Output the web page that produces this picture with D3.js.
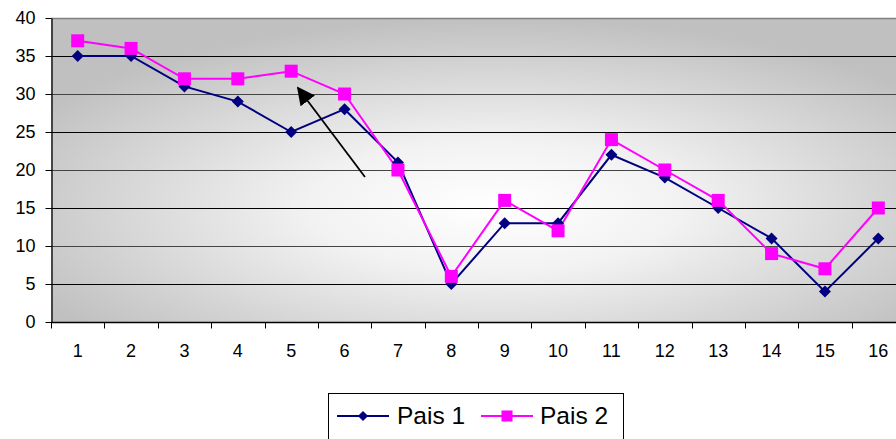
<!DOCTYPE html>
<html>
<head>
<meta charset="utf-8">
<script src="https://cdn.jsdelivr.net/npm/d3@7"></script>
<style>
  html, body { margin: 0; padding: 0; background: #fff; overflow: hidden; }
  svg { display: block; font-family: "Liberation Sans", Arial, sans-serif; }
</style>
</head>
<body>
<svg id="chart" width="896" height="439"></svg>
<script>
// Categories along the x axis
const categories = ["1","2","3","4","5","6","7","8","9","10","11","12","13","14","15","16"];
// Series values
const pais1 = [35,35,31,29,25,28,21,5,13,13,22,19,15,11,4,11];
const pais2 = [37,36,32,32,33,30,20,6,16,12,24,20,16,9,7,15];
// Y axis tick values
const yTicks = [0,5,10,15,20,25,30,35,40];

const series = [
  { name: "Pais 1", values: pais1, color: "#000080", marker: "diamond" },
  { name: "Pais 2", values: pais2, color: "#ff00ff", marker: "square" }
];

const FONT = "'Liberation Sans', Arial, sans-serif";
const svg = d3.select("#chart");
const plot = { left: 51, top: 18, right: 905, bottom: 322 };

const x = d3.scaleBand().domain(categories).range([plot.left, plot.right]).padding(0);
const y = d3.scaleLinear().domain([0, 40]).range([plot.bottom, plot.top]);
const cx = d => x(d) + x.bandwidth() / 2;

// Plot-area background: light centre fading to grey edges
const defs = svg.append("defs");
const grad = defs.append("radialGradient")
  .attr("id", "plotBg")
  .attr("cx", 0.52).attr("cy", 0.62).attr("r", 0.62)
  .attr("fx", 0.52).attr("fy", 0.62);
grad.append("stop").attr("offset", "0%").attr("stop-color", "#ffffff");
grad.append("stop").attr("offset", "35%").attr("stop-color", "#f2f2f2");
grad.append("stop").attr("offset", "100%").attr("stop-color", "#c0c0c0");

svg.append("rect")
  .attr("x", plot.left).attr("y", plot.top)
  .attr("width", plot.right - plot.left).attr("height", plot.bottom - plot.top)
  .attr("fill", "url(#plotBg)");

// Top border of plot area
svg.append("line")
  .attr("x1", plot.left).attr("x2", plot.right)
  .attr("y1", plot.top + 0.5).attr("y2", plot.top + 0.5)
  .attr("stroke", "#808080").attr("stroke-width", 1.5);

// Horizontal gridlines
svg.append("g")
  .selectAll("line")
  .data(yTicks.filter(t => t > 0 && t < 40))
  .join("line")
  .attr("x1", plot.left).attr("x2", plot.right)
  .attr("y1", d => Math.round(y(d)) + 0.5).attr("y2", d => Math.round(y(d)) + 0.5)
  .attr("stroke", (d, i) => i % 2 === 0 ? "#000" : "#444")
  .attr("stroke-width", 1);

// Y axis
const yAxis = svg.append("g")
  .attr("transform", `translate(${plot.left + 0.5},0)`)
  .call(d3.axisLeft(y).tickValues(yTicks).tickSize(6).tickPadding(10).tickSizeOuter(0));
yAxis.select(".domain").attr("stroke", "#000").attr("stroke-width", 1.3);
yAxis.selectAll(".tick line").attr("stroke", "#000");
yAxis.selectAll("text").attr("font-size", 18).attr("fill", "#000")
  .attr("font-family", FONT);

// X axis: ticks at category boundaries, labels centred in each band
const xAxisG = svg.append("g").attr("transform", `translate(0,${plot.bottom + 0.5})`);
xAxisG.append("line")
  .attr("x1", plot.left).attr("x2", plot.right)
  .attr("stroke", "#000").attr("stroke-width", 1.3);
xAxisG.selectAll("line.tick")
  .data(categories)
  .join("line")
  .attr("class", "tick")
  .attr("x1", d => Math.round(x(d)) + 0.5).attr("x2", d => Math.round(x(d)) + 0.5)
  .attr("y1", 0).attr("y2", 6)
  .attr("stroke", "#000");
xAxisG.selectAll("text")
  .data(categories)
  .join("text")
  .attr("x", d => cx(d))
  .attr("y", 34.5)
  .attr("text-anchor", "middle")
  .attr("font-size", 18)
  .attr("font-family", FONT)
  .text(d => d);

// Series lines
const line = d3.line().x((v, i) => cx(categories[i])).y(v => y(v));
svg.append("g")
  .selectAll("path")
  .data(series)
  .join("path")
  .attr("d", s => line(s.values))
  .attr("fill", "none")
  .attr("stroke", s => s.color)
  .attr("stroke-width", 2);

// Markers
const diamond = d3.symbol().type(d3.symbolSquare).size(72);
function drawMarker(g, s, px, py, scale = 1) {
  if (s.marker === "diamond") {
    g.append("path")
      .attr("d", diamond())
      .attr("transform", `translate(${px},${py}) rotate(45) scale(${scale})`)
      .attr("fill", s.color);
  } else {
    const h = 6.5 * scale;
    g.append("rect")
      .attr("x", px - h).attr("y", py - h)
      .attr("width", 2 * h).attr("height", 2 * h)
      .attr("fill", s.color);
  }
}
series.forEach(s => {
  const g = svg.append("g");
  s.values.forEach((v, i) => drawMarker(g, s, cx(categories[i]), y(v)));
});

// Annotation arrow pointing at the Pais 2 peak
defs.append("marker")
  .attr("id", "arrowHead")
  .attr("viewBox", "0 0 10 10")
  .attr("refX", 9).attr("refY", 5)
  .attr("markerWidth", 10).attr("markerHeight", 10)
  .attr("markerUnits", "strokeWidth")
  .attr("orient", "auto")
  .append("path")
  .attr("d", "M0,0 L10,5 L0,10 Z")
  .attr("fill", "#000");
svg.append("line")
  .attr("x1", 365).attr("y1", 177)
  .attr("x2", 298).attr("y2", 88)
  .attr("stroke", "#000").attr("stroke-width", 1.8)
  .attr("marker-end", "url(#arrowHead)");

// Legend
const legend = svg.append("g");
legend.append("rect")
  .attr("x", 328.5).attr("y", 393.5)
  .attr("width", 295).attr("height", 60)
  .attr("fill", "#fff").attr("stroke", "#000");
const legendItems = [
  { s: series[0], x0: 337, tx: 397 },
  { s: series[1], x0: 481, tx: 540 }
];
legendItems.forEach(it => {
  legend.append("line")
    .attr("x1", it.x0).attr("x2", it.x0 + 52)
    .attr("y1", 416).attr("y2", 416)
    .attr("stroke", it.s.color).attr("stroke-width", 2);
  drawMarker(legend, it.s, it.x0 + 26, 416, 0.85);
  legend.append("text")
    .attr("x", it.tx).attr("y", 424)
    .attr("font-size", 24.5)
    .attr("font-family", FONT)
    .attr("fill", "#000")
    .text(it.s.name);
});
</script>
</body>
</html>
